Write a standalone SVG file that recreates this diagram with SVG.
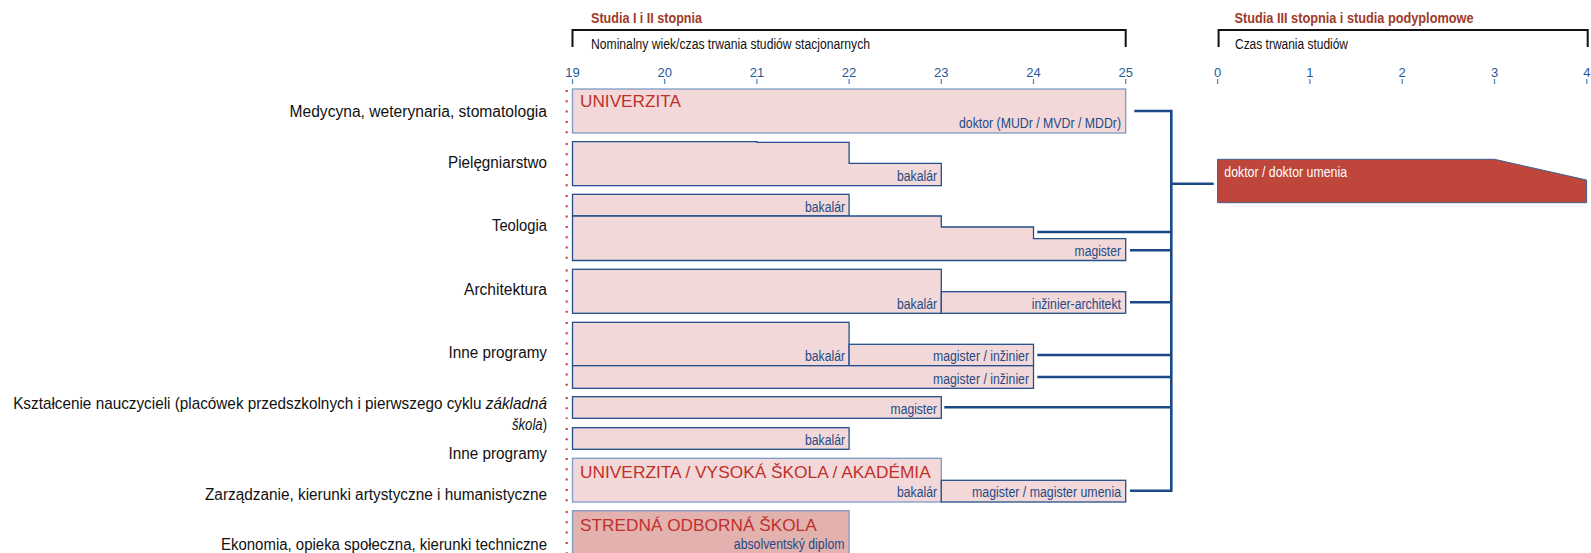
<svg xmlns="http://www.w3.org/2000/svg" width="1591" height="553" viewBox="0 0 1591 553">
<style>
.hdr{font-family:"Liberation Sans",Arial,sans-serif;font-weight:bold;font-size:15px;fill:#a03a2a}
.sub{font-family:"Liberation Sans",Arial,sans-serif;font-size:14px;fill:#111}
.brk{fill:none;stroke:#111;stroke-width:2}
.tk{font-family:"Liberation Sans",Arial,sans-serif;font-size:13px;fill:#1f5a9a;text-anchor:middle}
.tick{stroke:#4f7fb8;stroke-width:1.2}
.row{font-family:"Liberation Sans",Arial,sans-serif;font-size:16px;fill:#111;text-anchor:end}
.it{font-style:italic}
.box{fill:#f2d8d8;stroke:#234f8c;stroke-width:1.3}
.boxl{fill:#f2d8d8;stroke:#7d9bc5;stroke-width:1.3}
.sos{fill:#e3b1ae;stroke:#7d9bc5;stroke-width:1.3}
.lbl{font-family:"Liberation Sans",Arial,sans-serif;font-size:14px;fill:#1f4a85;text-anchor:end}
.big{font-family:"Liberation Sans",Arial,sans-serif;font-size:16.5px;fill:#c0302a}
.dot{stroke:#c0392b;stroke-width:2;stroke-dasharray:2 8.3}
.con{fill:none;stroke:#1a4a85;stroke-width:2.6}
</style>

<g id="headers">
  <text class="hdr" x="591" y="23" textLength="111" lengthAdjust="spacingAndGlyphs">Studia I i II stopnia</text>
  <path class="brk" d="M572.5,47 V30 H1125.7 V47"/>
  <text class="sub" x="591" y="48.5" textLength="279" lengthAdjust="spacingAndGlyphs">Nominalny wiek/czas trwania studiów stacjonarnych</text>
  <text class="hdr" x="1234.5" y="23" textLength="239" lengthAdjust="spacingAndGlyphs">Studia III stopnia i studia podyplomowe</text>
  <path class="brk" d="M1218.6,47 V30 H1587.7 V47"/>
  <text class="sub" x="1235" y="48.5" textLength="113" lengthAdjust="spacingAndGlyphs">Czas trwania studiów</text>
</g>

<g id="axis">
  <text class="tk" x="572.5" y="77">19</text>
  <text class="tk" x="664.7" y="77">20</text>
  <text class="tk" x="756.9" y="77">21</text>
  <text class="tk" x="849.1" y="77">22</text>
  <text class="tk" x="941.3" y="77">23</text>
  <text class="tk" x="1033.5" y="77">24</text>
  <text class="tk" x="1125.7" y="77">25</text>
  <text class="tk" x="1217.6" y="77">0</text>
  <text class="tk" x="1309.9" y="77">1</text>
  <text class="tk" x="1402.2" y="77">2</text>
  <text class="tk" x="1494.5" y="77">3</text>
  <text class="tk" x="1586.8" y="77">4</text>
  <path class="tick" d="M572.5,79V84M664.7,79V84M756.9,79V84M849.1,79V84M941.3,79V84M1033.5,79V84M1125.7,79V84M1217.6,79V84M1309.9,79V84M1402.2,79V84M1494.5,79V84M1586.8,79V84"/>
</g>

<g id="rowlabels">
  <text class="row" x="547" y="116.5" textLength="257.5" lengthAdjust="spacingAndGlyphs">Medycyna, weterynaria, stomatologia</text>
  <text class="row" x="547" y="168" textLength="99" lengthAdjust="spacingAndGlyphs">Pielęgniarstwo</text>
  <text class="row" x="547" y="230.5" textLength="55" lengthAdjust="spacingAndGlyphs">Teologia</text>
  <text class="row" x="547" y="295" textLength="83" lengthAdjust="spacingAndGlyphs">Architektura</text>
  <text class="row" x="547" y="357.5" textLength="98.5" lengthAdjust="spacingAndGlyphs">Inne programy</text>
  <text class="row" transform="translate(547,409) scale(0.957,1)">Kształcenie nauczycieli (placówek przedszkolnych i pierwszego cyklu <tspan class="it">základná</tspan></text>
  <text class="row" transform="translate(547,429.5) scale(0.82,1)"><tspan class="it">škola</tspan>)</text>
  <text class="row" x="547" y="458.5" textLength="98.5" lengthAdjust="spacingAndGlyphs">Inne programy</text>
  <text class="row" x="547" y="499.5" textLength="342" lengthAdjust="spacingAndGlyphs">Zarządzanie, kierunki artystyczne i humanistyczne</text>
  <text class="row" x="547" y="550" textLength="326" lengthAdjust="spacingAndGlyphs">Ekonomia, opieka społeczna, kierunki techniczne</text>
</g>

<g id="dots">
  <line class="dot" x1="566.7" y1="90" x2="566.7" y2="134"/>
  <line class="dot" x1="566.7" y1="143" x2="566.7" y2="187"/>
  <line class="dot" x1="566.7" y1="195" x2="566.7" y2="262"/>
  <line class="dot" x1="566.7" y1="269.5" x2="566.7" y2="314"/>
  <line class="dot" x1="566.7" y1="322" x2="566.7" y2="389"/>
  <line class="dot" x1="566.7" y1="397" x2="566.7" y2="419"/>
  <line class="dot" x1="566.7" y1="428" x2="566.7" y2="450"/>
  <line class="dot" x1="566.7" y1="458" x2="566.7" y2="503"/>
  <line class="dot" x1="566.7" y1="511" x2="566.7" y2="553"/>
</g>

<g id="medycyna">
  <rect class="boxl" x="572.5" y="89" width="553.2" height="44"/>
  <text class="big" x="580" y="106.7" textLength="101" lengthAdjust="spacingAndGlyphs">UNIVERZITA</text>
  <text class="lbl" x="1121" y="128" textLength="162" lengthAdjust="spacingAndGlyphs">doktor (MUDr / MVDr / MDDr)</text>
</g>

<g id="pielegniarstwo">
  <path class="box" d="M572.5,141.7 H756.9 V142.3 H849.1 V163.3 H941.3 V185.7 H572.5 Z"/>
  <text class="lbl" x="937" y="181" textLength="40" lengthAdjust="spacingAndGlyphs">bakalár</text>
</g>

<g id="teologia">
  <rect class="box" x="572.5" y="194.3" width="276.6" height="21.7"/>
  <text class="lbl" x="845" y="211.5" textLength="40" lengthAdjust="spacingAndGlyphs">bakalár</text>
  <path class="box" d="M572.5,216 H941.3 V227 H1033.5 V238.7 H1125.7 V260.5 H572.5 Z"/>
  <text class="lbl" x="1121" y="256" textLength="46.4" lengthAdjust="spacingAndGlyphs">magister</text>
</g>

<g id="architektura">
  <rect class="box" x="572.5" y="269.3" width="368.8" height="44"/>
  <text class="lbl" x="937" y="308.8" textLength="40" lengthAdjust="spacingAndGlyphs">bakalár</text>
  <rect class="box" x="941.3" y="291.7" width="184.4" height="21.6"/>
  <text class="lbl" x="1121" y="308.8" textLength="89.3" lengthAdjust="spacingAndGlyphs">inžinier-architekt</text>
</g>

<g id="inne1">
  <rect class="box" x="572.5" y="322.3" width="276.6" height="43.4"/>
  <text class="lbl" x="845" y="361" textLength="40" lengthAdjust="spacingAndGlyphs">bakalár</text>
  <rect class="box" x="849.1" y="344.3" width="184.4" height="21.4"/>
  <text class="lbl" x="1029" y="361" textLength="96" lengthAdjust="spacingAndGlyphs">magister / inžinier</text>
  <rect class="box" x="572.5" y="365.7" width="461" height="22.6"/>
  <text class="lbl" x="1029" y="383.5" textLength="96" lengthAdjust="spacingAndGlyphs">magister / inžinier</text>
</g>

<g id="nauczyciele">
  <rect class="box" x="572.5" y="396.7" width="368.8" height="21.6"/>
  <text class="lbl" x="937" y="413.5" textLength="46.4" lengthAdjust="spacingAndGlyphs">magister</text>
</g>

<g id="inne2">
  <rect class="box" x="572.5" y="427.7" width="276.6" height="21.6"/>
  <text class="lbl" x="845" y="444.5" textLength="40" lengthAdjust="spacingAndGlyphs">bakalár</text>
</g>

<g id="zarzadzanie">
  <rect class="boxl" x="572.5" y="458.3" width="368.8" height="43.7"/>
  <text class="big" x="580" y="477.7" textLength="350.7" lengthAdjust="spacingAndGlyphs">UNIVERZITA / VYSOKÁ ŠKOLA / AKADÉMIA</text>
  <text class="lbl" x="937" y="497" textLength="40" lengthAdjust="spacingAndGlyphs">bakalár</text>
  <rect class="box" x="941.3" y="480.3" width="184.4" height="21.7"/>
  <text class="lbl" x="1121" y="497" textLength="149" lengthAdjust="spacingAndGlyphs">magister / magister umenia</text>
</g>

<g id="stredna">
  <rect class="sos" x="572.5" y="510.7" width="276.6" height="50"/>
  <text class="big" x="580" y="530.7" textLength="236.7" lengthAdjust="spacingAndGlyphs">STREDNÁ ODBORNÁ ŠKOLA</text>
  <text class="lbl" x="844.5" y="548.5" textLength="110.7" lengthAdjust="spacingAndGlyphs">absolventský diplom</text>
</g>

<g id="doktor">
  <path d="M1217.6,159.3 H1494.5 L1586.6,180 V202.7 H1217.6 Z" fill="#be463b" stroke="#3f5f8f" stroke-width="1"/>
  <text x="1224.3" y="176.5" font-family="'Liberation Sans',Arial,sans-serif" font-size="14" fill="#ffffff" textLength="122.7" lengthAdjust="spacingAndGlyphs">doktor / doktor umenia</text>
</g>

<g id="connectors">
  <path class="con" d="M1134.3,111 H1171.3 V490.7 H1130"/>
  <path class="con" d="M1171.3,183.7 H1213.7"/>
  <path class="con" d="M1037.3,232 H1171.3"/>
  <path class="con" d="M1130,250.3 H1171.3"/>
  <path class="con" d="M1130,302.3 H1171.3"/>
  <path class="con" d="M1037.3,355 H1171.3"/>
  <path class="con" d="M1037.3,377 H1171.3"/>
  <path class="con" d="M944.3,407.3 H1171.3"/>
</g>
</svg>
